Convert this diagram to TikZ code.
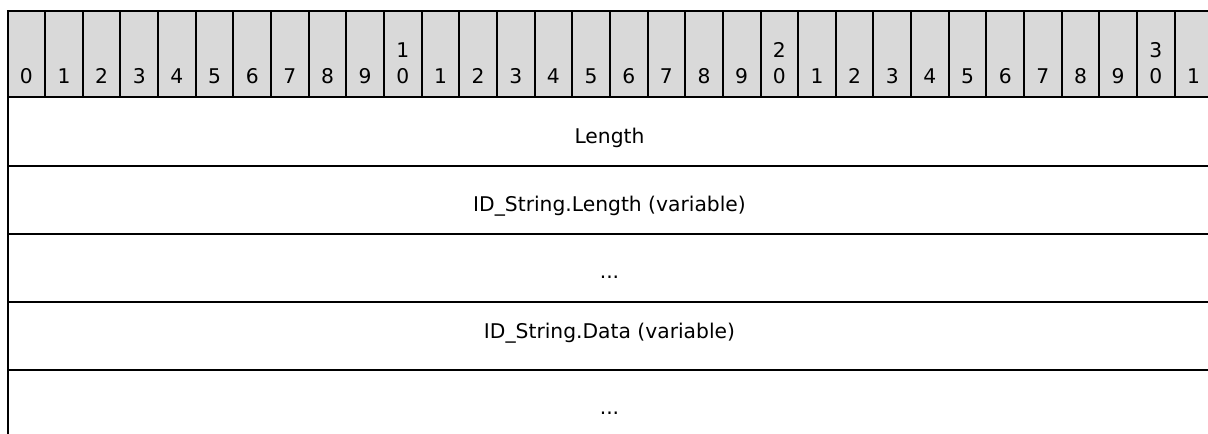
\documentclass[tikz,border=0pt]{standalone}
\usepackage{fontspec}
\setmainfont{DejaVu Sans}
\definecolor{hdr}{HTML}{D9D9D9}
\begin{document}
\begin{tikzpicture}[x=0.75pt,y=-0.75pt,line width=1.5pt,
  txt/.style={font=\fontsize{15.2pt}{19.5pt}\selectfont,inner sep=0pt,anchor=base},
  rule/.style={line width=1.5pt,draw=black}]
\clip (0,0) rectangle (1208,434);
\useasboundingbox (0,0) rectangle (1208,434);
% header background
\fill[hdr] (7.5,11) rectangle (1212,97.5);
% header vertical dividers
\foreach \i in {0,...,32} {
  \draw[rule] (7.5+37.65*\i,11) -- (7.5+37.65*\i,97.5);
}
% horizontal rules
\draw[rule] (6.75,11) -- (1212,11);
\foreach \y in {97.5,166,234,302,370} {
  \draw[rule] (7.5,\y) -- (1212,\y);
}
% left border of body
\draw[rule] (7.5,97.5) -- (7.5,434);
% header digits
\foreach \i in {0,...,31} {
  \pgfmathtruncatemacro\d{mod(\i,10)}
  \pgfmathtruncatemacro\t{div(\i,10)}
  \node[txt] (b\i) at (7.5+37.65*\i+18.8,84) {\d};
  \ifnum\d=0 \ifnum\t>0
    \node[txt] (t\i) at (7.5+37.65*\i+18.8,57.7) {\t};
  \fi\fi
}
% body rows
\node[txt] (r1) at (609.5,144) {Length};
\node[txt] (r2) at (609.5,212) {ID\_String.Length (variable)};
\node[txt] (r3) at (609.5,279) {...};
\node[txt] (r4) at (609.5,339) {ID\_String.Data (variable)};
\node[txt] (r5) at (609.5,415) {...};
\end{tikzpicture}
\end{document}
